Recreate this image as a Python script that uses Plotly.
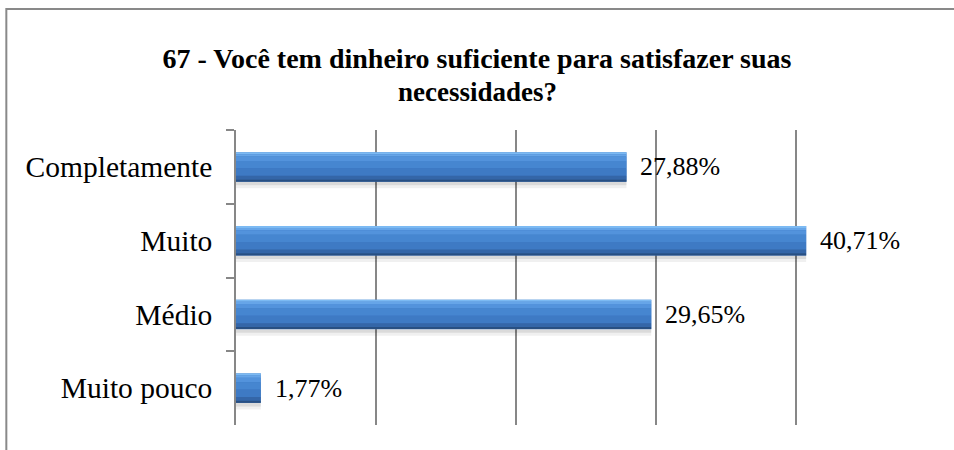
import plotly.graph_objects as go

categories = ["Completamente", "Muito", "Médio", "Muito pouco"]
values = [27.88, 40.71, 29.65, 1.77]
title_lines = ["67 - Você tem dinheiro suficiente para satisfazer suas", "necessidades?"]
x_ticks = [0, 10, 20, 30, 40, 50]

labels = [f"{v:.2f}%".replace(".", ",") for v in values]

SERIF = "Liberation Serif"
W, H = 954, 450
L, R = 235.5, 937.5
T, B = 130, 425
pw, ph = R - L, B - T

fig = go.Figure()

# shadow under bars
for off, wd, col in [(0.2, 0.09, "rgba(0,0,0,0.06)"), (0.2, 0.05, "rgba(0,0,0,0.09)")]:
    fig.add_trace(go.Bar(y=categories, x=values, orientation="h", offset=off, width=wd,
                         marker=dict(color=col, line=dict(width=0)), hoverinfo="skip", showlegend=False))

# gradient-like bar bands
bands = [
    (-0.2, 0.4, "#3c76bf"),
    (-0.2, 0.03, "#7cbaf3"),
    (-0.17, 0.03, "#66a5e8"),
    (-0.14, 0.06, "#5393dc"),
    (-0.08, 0.1, "#4686d0"),
    (0.02, 0.1, "#3e7ac4"),
    (0.12, 0.05, "#3466a8"),
    (0.17, 0.03, "#284f82"),
]
for off, wd, col in bands:
    fig.add_trace(go.Bar(y=categories, x=values, orientation="h", offset=off, width=wd,
                         marker=dict(color=col, line=dict(width=0)), hoverinfo="skip", showlegend=False))

annotations = []
for c, v, t in zip(categories, values, labels):
    annotations.append(dict(x=v, y=c, xref="x", yref="y", text=t, showarrow=False,
                            xanchor="left", yanchor="middle", xshift=12,
                            font=dict(family=SERIF, size=26, color="#000")))

# second title line
annotations.append(dict(x=(477 - L) / pw, y=1 + (T - 92) / ph, xref="paper", yref="paper",
                        text="<b>" + title_lines[1] + "</b>", showarrow=False,
                        xanchor="center", yanchor="middle",
                        font=dict(family=SERIF, size=27, color="#000")))

fig.update_layout(
    width=W, height=H,
    margin=dict(l=L, r=W - R, t=T, b=H - B, pad=0),
    paper_bgcolor="white", plot_bgcolor="white",
    barmode="overlay",
    showlegend=False,
    title=dict(text="<b>" + title_lines[0] + "</b>", x=0.5, xref="container", xanchor="center",
               y=1 - 58 / H, yref="container", yanchor="middle",
               font=dict(family=SERIF, size=28, color="#000")),
    xaxis=dict(range=[0, 50.05], tickvals=x_ticks, showticklabels=False, showgrid=True,
               gridcolor="#878787", gridwidth=1.5, zeroline=False, showline=False, ticks=""),
    yaxis=dict(type="category", autorange="reversed", tickson="boundaries", ticks="outside",
               ticklen=8, tickcolor="#878787", tickwidth=1.5, showline=True, linecolor="#878787",
               linewidth=1.5, showgrid=False, ticklabelstandoff=16,
               tickfont=dict(family=SERIF, size=29.5, color="#000")),
    annotations=annotations,
    shapes=[dict(type="rect", xref="paper", yref="paper",
                 x0=(5.5 - L) / pw, x1=(965 - L) / pw,
                 y0=-(465 - B) / ph, y1=1 + (T - 9) / ph,
                 line=dict(color="#898989", width=2), fillcolor="rgba(0,0,0,0)", layer="below")],
)

fig.write_html("out.html")
